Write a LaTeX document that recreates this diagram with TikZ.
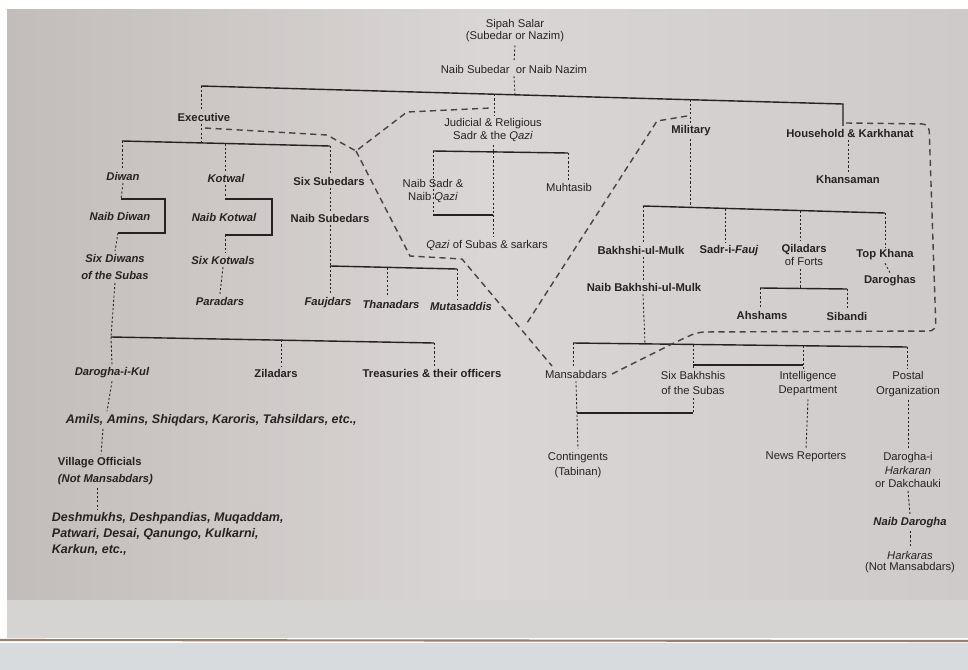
\documentclass[tikz,border=0pt]{standalone}
\usepackage{fontspec}
\setmainfont{Liberation Sans}
\usetikzlibrary{calc}
\definecolor{ink}{RGB}{38,34,34}
\definecolor{pageL}{RGB}{194,189,187}
\definecolor{pageM}{RGB}{218,214,213}
\definecolor{pageR}{RGB}{206,202,201}
\definecolor{edge}{RGB}{214,212,211}
\definecolor{edgeline}{RGB}{150,128,112}
\definecolor{floor}{RGB}{216,219,222}
\begin{document}
\begin{tikzpicture}[x=0.02cm,y=-0.02cm,
  lab/.style={font=\fontsize{6.4}{#1}\selectfont, text=ink, inner sep=1.5pt, align=center}, lab/.default=7.6,
  labb/.style={lab, font=\fontsize{6.4}{#1}\selectfont\bfseries}, labb/.default=7.6,
  labi/.style={lab, font=\fontsize{6.4}{#1}\selectfont\bfseries\itshape}, labi/.default=7.6,
  labw/.style={lab, font=\fontsize{7.1}{#1}\selectfont\bfseries\itshape}, labw/.default=8.6,
  bar/.style={draw=ink, line width=0.8pt},
  dot/.style={draw=ink, line width=0.5pt, dash pattern=on 1.2pt off 1.2pt},
  bound/.style={draw=ink!85, line width=0.8pt, dash pattern=on 3.5pt off 2.5pt}]
% ---------- background (photographed page)
\useasboundingbox (0,0) rectangle (968,670);
\fill[white] (0,0) rectangle (968,670);
\shade[left color=pageL, right color=pageR, middle color=pageM] (7,9) rectangle (968,600);
\fill[edge] (7,600) rectangle (968,638);
\fill[floor] (0,643) rectangle (968,670);
\draw[edgeline, line width=1.2pt] (0,640) -- (968,641);
% ---------- nodes
\node[lab=6.9] (sipah) at (515,31) {Sipah Salar\\(Subedar or Nazim)};
\node[lab] (naibsub) at (514,69) {Naib Subedar \ or Naib Nazim};
\node[labb] (exec) at (204,117) {Executive};
\node[lab=7.4] (jud) at (493,130) {Judicial \& Religious\\Sadr \& the \textit{Qazi}};
\node[labb] (mil) at (691,131) {Military};
\node[labb] (house) at (850,133) {Household \& Karkhanat};
\node[labb] (khan) at (848,179) {Khansaman};
\node[labi] (diwan) at (123,176) {Diwan};
\node[labi] (kotwal) at (226,178) {Kotwal};
\node[labb] (sixsub) at (329,181) {Six Subedars};
\node[labi] (naibdiwan) at (120,216) {Naib Diwan};
\node[labi] (naibkot) at (224,217) {Naib Kotwal};
\node[labb] (naibsubs) at (330,218) {Naib Subedars};
\node[labi=10] (sixdiwan) at (115,267) {Six Diwans\\of the Subas};
\node[labi] (sixkot) at (223,260) {Six Kotwals};
\node[labi] (para) at (220,301) {Paradars};
\node[labi] (fauj) at (328,303) {Faujdars};
\node[labi] (thana) at (391,304) {Thanadars};
\node[labi] (muta) at (461,306) {Mutasaddis};
\node[lab=7.4] (naibsadr) at (433,191) {Naib Sadr \&\\Naib \textit{Qazi}};
\node[lab] (muht) at (569,187) {Muhtasib};
\node[lab] (qazi) at (487,245) {\textit{Qazi} of Subas \& sarkars};
\node[labi] (darkul) at (112,373) {Darogha-i-Kul};
\node[labb] (zila) at (276,373) {Ziladars};
\node[labb] (treas) at (432,373) {Treasuries \& their officers};
\node[labw, anchor=west] (amils) at (63,420) {Amils, Amins, Shiqdars, Karoris, Tahsildars, etc.,};
\node[labb=9.6, anchor=west, align=left] (vill) at (55,471) {Village Officials\\\textit{(Not Mansabdars)}};
\node[labw=9, anchor=west, align=left] (desh) at (49,534) {Deshmukhs, Deshpandias, Muqaddam,\\Patwari, Desai, Qanungo, Kulkarni,\\Karkun, etc.,};
\node[labb] (bakh) at (641,250) {Bakhshi-ul-Mulk};
\node[labb] (sadrf) at (729,251) {Sadr-i-\textit{Fauj}};
\node[labb=7.4] (qila) at (804,255) {Qiladars\\\mdseries of Forts};
\node[labb] (topk) at (885,255) {Top Khana};
\node[labb] (darog) at (890,281) {Daroghas};
\node[labb] (naibbakh) at (644,287) {Naib Bakhshi-ul-Mulk};
\node[labb] (ahsh) at (762,315) {Ahshams};
\node[labb] (siba) at (847,316) {Sibandi};
\node[lab] (mansab) at (576,374) {Mansabdars};
\node[lab=8.5] (sixbakh) at (693,383) {Six Bakhshis\\of the Subas};
\node[lab=8] (intel) at (808,384) {Intelligence\\Department};
\node[lab=8.5] (postal) at (908,384) {Postal\\Organization};
\node[lab=9] (cont) at (578,465) {Contingents\\(Tabinan)};
\node[lab] (news) at (806,457) {News Reporters};
\node[lab=7.8] (dharka) at (908,470) {Darogha-i\\\textit{Harkaran}\\or Dakchauki};
\node[labi] (naibdar) at (910,523) {Naib Darogha};
\node[lab=6.6] (hark) at (910,562) {\textit{Harkaras}\\(Not Mansabdars)};
% ---------- junction coordinates
\coordinate (mb1) at (201,86);
\coordinate (mbJ) at (494,94.2);
\coordinate (mbS) at (515,94.8);
\coordinate (mbM) at (690,99.7);
\coordinate (mb2) at (843,104);
\coordinate (eb1) at (122,141);
\coordinate (ebX) at (201,142.9);
\coordinate (ebK) at (225,143.5);
\coordinate (eb2) at (330,146);
\coordinate (nd1) at (121,199);
\coordinate (nd2) at (118,233);
\coordinate (nk1) at (225,199);
\coordinate (nk2) at (225,235);
\coordinate (sb1) at (330,266);
\coordinate (sb2) at (387,267.7);
\coordinate (sb3) at (457,269);
\coordinate (jb1) at (433,151);
\coordinate (jb2) at (493,152);
\coordinate (jb3) at (568,153);
\coordinate (jn1) at (433,215);
\coordinate (lb1) at (111,337);
\coordinate (lb2) at (281,340.2);
\coordinate (lb3) at (434,343);
\coordinate (ma) at (643,206);
\coordinate (mm) at (690,207.4);
\coordinate (mbb) at (725,208.4);
\coordinate (mc) at (800,210.6);
\coordinate (md) at (885,213);
\coordinate (qb0) at (800,288.5);
\coordinate (qb1) at (760,288);
\coordinate (qb2) at (847,289);
\coordinate (rb1) at (573,343);
\coordinate (rb2) at (645,343.9);
\coordinate (rb3) at (693,344.4);
\coordinate (rb4) at (803,345.8);
\coordinate (rb5) at (907,347);
\coordinate (ri1) at (693,365);
\coordinate (ri2) at (803,365);
\coordinate (mbb2) at (577,413);
% ---------- top
\draw[dot] (sipah.south) -- (naibsub.north);
\draw[dot] (naibsub.south) -- (mbS);
\draw[bar] (mb1) -- (mb2) -- (mb2 |- house.north);
% ---------- executive
\draw[dot] (mb1) -- (mb1 |- exec.north);
\draw[dot] (exec.south -| mb1) -- (ebX);
\draw[bar] (eb1) -- (eb2);
\draw[dot] (eb1) -- (eb1 |- diwan.north);
\draw[dot] (diwan.south) -- (nd1);
\draw[bar] (nd1) -- (165,199) -- (165,233) -- (nd2);
\draw[dot] (nd2) -- (sixdiwan.north);
\draw[dot] (sixdiwan.south) -- (lb1);
\draw[dot] (ebK) -- (ebK |- kotwal.north);
\draw[dot] (kotwal.south -| ebK) -- (nk1);
\draw[bar] (nk1) -- (272,199) -- (272,235) -- (nk2);
\draw[dot] (nk2) -- (nk2 |- sixkot.north);
\draw[dot] (sixkot.south) -- (para.north);
\draw[dot] (eb2) -- (eb2 |- sixsub.north);
\draw[dot] (sixsub.south -| eb2) -- (eb2 |- naibsubs.north);
\draw[dot] (naibsubs.south -| eb2) -- (sb1);
\draw[bar] (sb1) -- (sb3);
\draw[dot] (sb1) -- (sb1 |- fauj.north);
\draw[dot] (sb2) -- (sb2 |- thana.north);
\draw[dot] (sb3) -- (sb3 |- muta.north);
\draw[bar] (lb1) -- (lb3);
\draw[dot] (lb1) -- (darkul.north);
\draw[dot] (lb2) -- (lb2 |- zila.north);
\draw[dot] (lb3) -- (lb3 |- treas.north);
\draw[dot] (darkul.south) -- ($(amils.north west)+(44,0)$);
\draw[dot] ($(amils.south west)+(40,0)$) -- ($(vill.north west)+(46,0)$);
\draw[dot] ($(vill.south west)+(42,0)$) -- ($(desh.north west)+(48,0)$);
% ---------- judicial
\draw[dot] (mbJ) -- (mbJ |- jud.north);
\draw[bar] (jb1) -- (jb3);
\draw[dot] (jud.south -| jb2) -- (jb2);
\draw[dot] (jb2) -- (jb2 |- qazi.north);
\draw[dot] (jb1) -- (jn1);
\draw[bar] (jn1) -- (jn1 -| jb2);
\draw[dot] (jb3) -- (jb3 |- muht.north);
% ---------- military
\draw[dot] (mbM) -- (mbM |- mil.north);
\draw[dot] (mil.south -| mbM) -- (mm);
\draw[bar] (ma) -- (md);
\draw[dot] (ma) -- (ma |- bakh.north);
\draw[dot] (bakh.south -| ma) -- (ma |- naibbakh.north);
\draw[dot] (naibbakh.south -| ma) -- (rb2);
\draw[dot] (mbb) -- (mbb |- sadrf.north);
\draw[dot] (mc) -- (mc |- qila.north);
\draw[dot] (qila.south -| mc) -- (qb0);
\draw[bar] (qb1) -- (qb2);
\draw[dot] (qb1) -- (qb1 |- ahsh.north);
\draw[dot] (qb2) -- (qb2 |- siba.north);
\draw[dot] (md) -- (md |- topk.north);
\draw[dot] (topk.south) -- (darog.north);
% ---------- household
\draw[dot] (house.south -| khan.north) -- (khan.north);
% ---------- lower right
\draw[bar] (rb1) -- (rb5);
\draw[dot] (rb1) -- (rb1 |- mansab.north);
\draw[dot] (rb3) -- (rb3 |- sixbakh.north);
\draw[bar] (ri1) -- (ri2);
\draw[dot] (rb4) -- (rb4 |- intel.north);
\draw[dot] (sixbakh.south) -- (sixbakh.south |- mbb2);
\draw[bar] (sixbakh.south |- mbb2) -- (mbb2);
\draw[dot] (mansab.south) -- (cont.north);
\draw[dot] (intel.south) -- (news.north);
\draw[dot] (rb5) -- (rb5 |- postal.north);
\draw[dot] (postal.south) -- (dharka.north);
\draw[dot] (dharka.south) -- (naibdar.north);
\draw[dot] (naibdar.south) -- (hark.north);
% ---------- dashed boundaries
\coordinate (vv) at (356,151);
\draw[bound] (205,128) -- (327,135) -- (vv) -- (407,112) -- (491,108);
\draw[bound] (vv) -- (410,256) -- (462,259) -- (552,366);
\draw[bound] (687,116) -- (657,121) -- (527,323);
\draw[bound, rounded corners=4pt] (612,374) -- (678,341) -- (698,332) -- (936,331) -- (929,124) -- (846,123);
\end{tikzpicture}
\end{document}
